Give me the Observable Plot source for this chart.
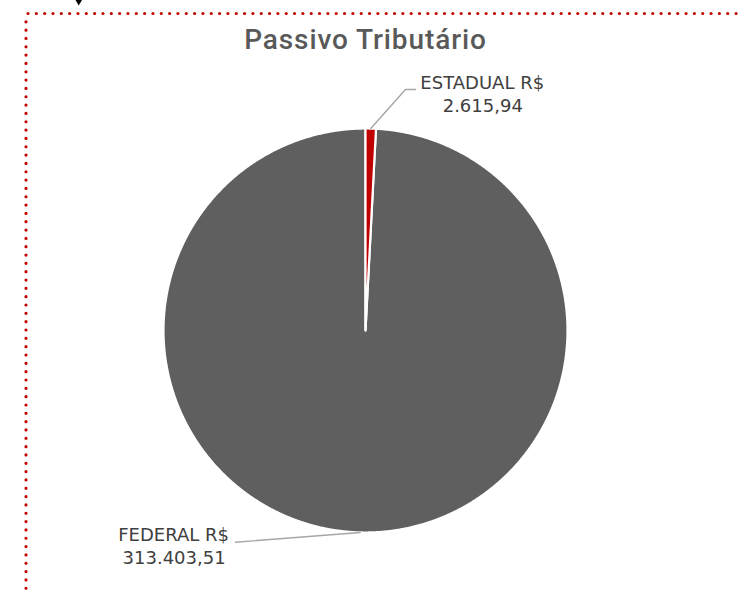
<!DOCTYPE html>
<html><head><meta charset="utf-8">
<script src="https://cdn.jsdelivr.net/npm/d3@7"></script>
<script src="https://cdn.jsdelivr.net/npm/@observablehq/plot@0.6"></script>
<style>
body{margin:0;background:#fff;}
#wrap{position:relative;width:740px;height:593px;overflow:hidden;}
#title{position:absolute;left:0;width:731px;top:24px;text-align:center;font-family:Roboto,sans-serif;font-weight:500;font-size:28px;letter-spacing:0.9px;color:#595959;line-height:32px;}
#deco{position:absolute;left:0;top:0;}
</style></head><body>
<div id="wrap"><div id="chart"></div><div id="title">Passivo Tributário</div>
<svg id="deco" width="740" height="593">
  <line x1="28" y1="13.5" x2="740" y2="13.5" stroke="#c00000" stroke-width="3.2" stroke-linecap="round" stroke-dasharray="0 8.33"/>
  <line x1="26" y1="21.8" x2="26" y2="593" stroke="#c00000" stroke-width="3.2" stroke-linecap="round" stroke-dasharray="0 8.33"/>
  <path d="M75.5,0 L82,0 L78.7,5.5 Z" fill="#000"/>
</svg>
</div>
<script>
// ---- data ----
const categories = ["ESTADUAL", "FEDERAL"];
const values = [2615.94, 313403.51];
const valueLabels = ["2.615,94", "313.403,51"];
const colors = ["#c00000", "#5f5f5f"];

// ---- layout (label placement, in unit-circle coordinates) ----
const labelLayout = {
  ESTADUAL: {elbow: [0.198, 1.193], end: [0.248, 1.193], name: [0.578, 1.222], value: [0.578, 1.108]},
  FEDERAL:  {elbow: null, end: [-0.644, -1.048], name: [-0.950, -1.015], value: [-0.950, -1.129]}
};

const arcs = d3.pie().sort(null).startAngle(0).endAngle(2 * Math.PI)(values);

const slices = arcs.map((a, i) => {
  const pts = [{x: 0, y: 0}];
  const n = Math.max(2, Math.ceil((a.endAngle - a.startAngle) / 0.005));
  for (let k = 0; k <= n; k++) {
    const t = a.startAngle + (a.endAngle - a.startAngle) * k / n;
    pts.push({x: Math.sin(t), y: Math.cos(t)});
  }
  return {category: categories[i], color: colors[i], pts};
});

const leaders = [];
const names = [];
const nums = [];
arcs.forEach((a, i) => {
  const c = categories[i];
  const m = (a.startAngle + a.endAngle) / 2;
  const L = labelLayout[c];
  const path = [{x: Math.sin(m), y: Math.cos(m)}];
  if (L.elbow) path.push({x: L.elbow[0], y: L.elbow[1]});
  path.push({x: L.end[0], y: L.end[1]});
  leaders.push({category: c, path});
  names.push({x: L.name[0], y: L.name[1], text: c + " R$"});
  nums.push({x: L.value[0], y: L.value[1], text: valueLabels[i]});
});

const marks = [];
[...slices].reverse().forEach(s => {
  marks.push(Plot.line(s.pts, {x: "x", y: "y", curve: "linear-closed", fill: s.color, stroke: "#ffffff", strokeWidth: 2.2, strokeLinejoin: "round"}));
});
leaders.forEach(l => {
  marks.push(Plot.line(l.path, {x: "x", y: "y", stroke: "#a6a6a6", strokeWidth: 1.4}));
});
marks.push(Plot.text(names, {x: "x", y: "y", text: "text", textAnchor: "middle", fontSize: 18, fill: "#404040", fontFamily: "DejaVu Sans", ariaLabel: "names"}));
marks.push(Plot.text(nums, {x: "x", y: "y", text: "text", textAnchor: "middle", fontSize: 18, fill: "#404040", fontFamily: "DejaVu Sans", ariaLabel: "values", dx: 0.5}));

const chart = Plot.plot({
  width: 740, height: 593,
  margin: 0,
  x: {domain: [-1, 1], range: [163, 567], axis: null},
  y: {domain: [-1, 1], range: [532, 128], axis: null},
  style: {background: "transparent", overflow: "visible"},
  marks
});
d3.select(chart).selectAll('g[aria-label="values"] text').style("letter-spacing", "1px");
document.getElementById("chart").appendChild(chart);
</script>
</body></html>
